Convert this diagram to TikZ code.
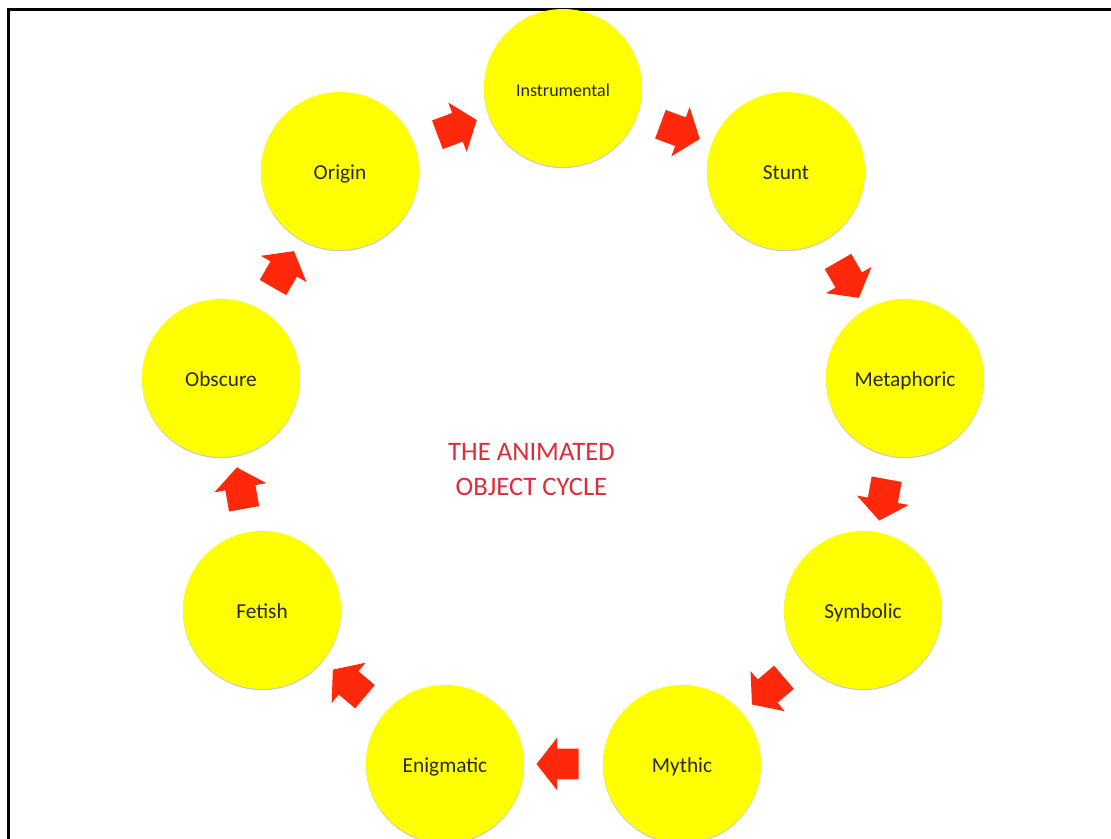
\documentclass[tikz,border=0pt]{standalone}
\usepackage{fontspec}
\setmainfont{Carlito}
\usetikzlibrary{shapes.arrows,calc,shadows}
\definecolor{circyellow}{RGB}{255,255,0}
\definecolor{arrowred}{RGB}{255,40,10}
\definecolor{titlered}{RGB}{222,45,55}
\definecolor{labelgray}{RGB}{40,40,40}
\tikzset{
  stage/.style={circle, fill=circyellow, minimum size=118.5pt, inner sep=0pt,
    text=labelgray, font=\fontsize{16}{19}\selectfont, text height=13pt, text depth=0pt,
    drop shadow={shadow xshift=0pt, shadow yshift=-0.9pt, opacity=0.3, fill=black!70}},
  blockarrow/.style={single arrow, fill=arrowred, draw=none, inner xsep=0pt,
    inner ysep=11.25pt, minimum height=31.5pt, single arrow head extend=8.3pt,
    single arrow tip angle=104}
}
\begin{document}
\begin{tikzpicture}[x=0.75pt,y=-0.75pt]
\useasboundingbox (0,0) rectangle (1111,839);
\clip (0,0) rectangle (1111,839);
\fill[white] (0,0) rectangle (1111,839);
\draw[line width=1.6pt, black] (8.5,1200) -- (8.5,9.5) -- (1200,9.5);
% stages
\node[stage, font=\fontsize{13.5}{16}\selectfont] (ins) at (563,88) {Instrumental};
\node[stage] (stu) at (786,171) {Stunt};
\node[stage] (met) at (905,378) {Metaphoric};
\node[stage] (sym) at (863,610) {Symbolic};
\node[stage] (myt) at (682,764) {Mythic};
\node[stage] (eni) at (445,764) {Enigmatic};
\node[stage] (fet) at (262,610) {Fetish};
\node[stage] (obs) at (221,378) {Obscure};
\node[stage] (ori) at (340,171) {Origin};
% title
\node[text=titlered, font=\fontsize{20}{26.25}\selectfont, align=center] (title) at (531.5,470) {THE ANIMATED\\OBJECT CYCLE};
% arrows
\foreach \s/\t in {ori/ins, ins/stu, stu/met, met/sym, sym/myt, myt/eni, eni/fet, fet/obs, obs/ori}{
  \path let \p1=($(\t)-(\s)$), \n1={atan2(\y1,\x1)} in
    node[blockarrow, rotate=\n1] (arr-\s) at ($(\s)!0.5!(\t)$) {};
}
\end{tikzpicture}
\end{document}
